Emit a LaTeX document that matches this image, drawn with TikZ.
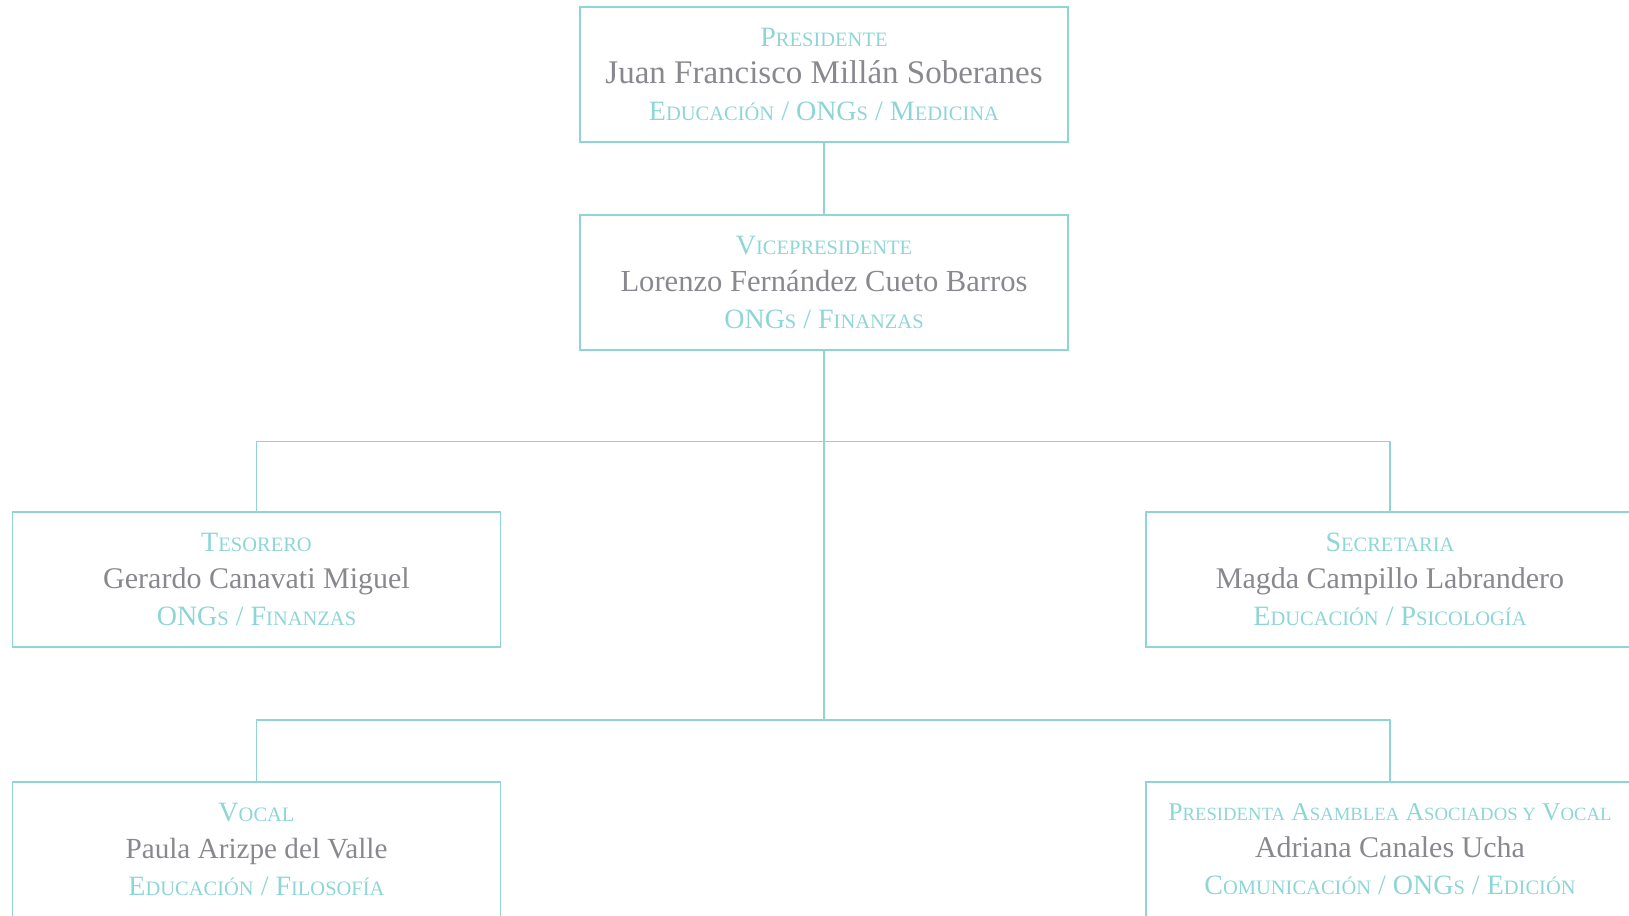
\documentclass[tikz,border=0pt]{standalone}
\usepackage{fontspec}
\setmainfont{Liberation Serif}
\usepackage{tikz}
\usetikzlibrary{positioning}
\definecolor{turq}{HTML}{8ED6D6}
\definecolor{gris}{HTML}{88888E}
\def\pqsize{20.5}
\def\pq#1{{\fontsize{\pqsize}{37}\selectfont #1}}
\def\puesto#1#2#3{\textcolor{turq}{#1}\\{\fontsize{30}{37}\selectfont\textcolor{gris}{#2}}\\\textcolor{turq}{#3}}

\begin{document}
\begin{tikzpicture}[x=1pt,y=-1pt,
	orgbox/.style={draw=turq, line width=1.3pt, minimum width=488pt, minimum height=135pt,
		inner sep=0pt, align=center, font=\fontsize{28}{37}\selectfont},
	rama/.style={draw=turq, line width=1.3pt}]
		%%%%% START %%%%%
		\useasboundingbox (0,0) rectangle (1629,915);
		\clip (0,0) rectangle (1629,915);
		
		\node[orgbox] (pres) at (824,74.5) {\puesto{P\pq{RESIDENTE}}{\fontsize{33}{37}\selectfont Juan Francisco Millán Soberanes}{E\pq{DUCACIÓN} / ONG\pq{S} / M\pq{EDICINA}}};
		\node[orgbox] (vice) at (824,282.5) {\puesto{V\pq{ICEPRESIDENTE}}{\fontsize{30.6}{37}\selectfont Lorenzo Fernández Cueto Barros}{ONG\pq{S} / F\pq{INANZAS}}};
		
		\node[orgbox] (tes) at (256.5,579.5) {\puesto{T\pq{ESORERO}}{Gerardo Canavati Miguel}{ONG\pq{S} / F\pq{INANZAS}}};
		\node[orgbox] (sec) at (1390,579.5) {\puesto{S\pq{ECRETARIA}}{Magda Campillo Labrandero}{E\pq{DUCACIÓN} / P\pq{SICOLOGÍA}}};
		
		\node[orgbox] (vocal) at (256.5,849.5) {\puesto{V\pq{OCAL}}{\fontsize{29.2}{37}\selectfont Paula Arizpe del Valle}{E\pq{DUCACIÓN} / F\pq{ILOSOFÍA}}};
		\node[orgbox] (pasam) at (1390,849.5) {\puesto{\fontsize{25.6}{37}\selectfont\def\pqsize{18.7}P\pq{RESIDENTA} A\pq{SAMBLEA} A\pq{SOCIADOS Y} V\pq{OCAL}}{Adriana Canales Ucha}{C\pq{OMUNICACIÓN} / ONG\pq{S} / E\pq{DICIÓN}}};
		
		\coordinate (j1) at (824,441.5);
		\coordinate (j2) at (824,720);
		
		\draw[rama] (pres.south) -- (vice.north);
		\draw[rama] (vice.south) -- (j2);
		\draw[rama] (tes.north) |- (j1) -| (sec.north);
		\draw[rama] (vocal.north) |- (j2) -| (pasam.north);
		
		%%%%% END %%%%%
	\end{tikzpicture}
\end{document}
